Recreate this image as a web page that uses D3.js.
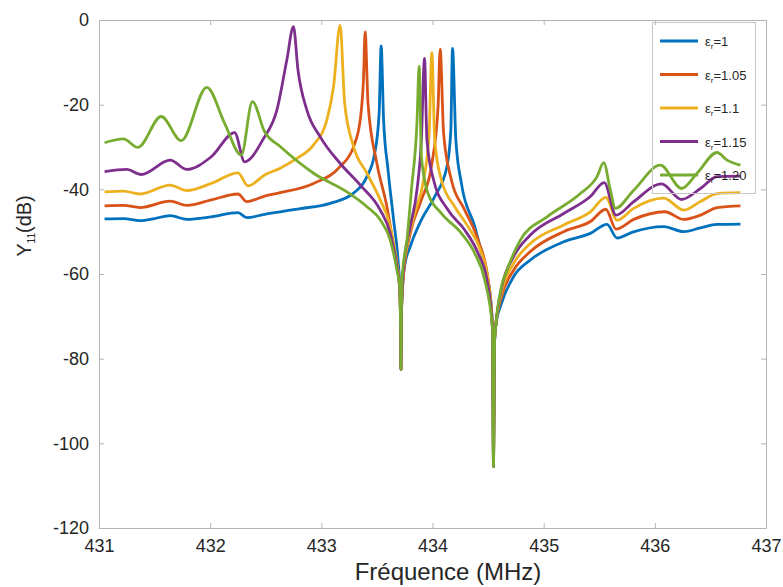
<!DOCTYPE html>
<html><head><meta charset="utf-8">
<script src="https://cdn.jsdelivr.net/npm/d3@7/dist/d3.min.js"></script>
<style>body{margin:0;background:#fff;} svg{display:block;font-family:"Liberation Sans",Arial,Helvetica,sans-serif;}</style>
</head><body>
<svg id="chart" width="783" height="587"></svg>
<script>
// ---- data (frequency MHz, Y11 dB) ----
const xTicks = [431, 432, 433, 434, 435, 436, 437];
const yTicks = [0, -20, -40, -60, -80, -100, -120];
const seriesNames = ["1", "1.05", "1.1", "1.15", "1.20"];
const seriesColors = ["#0072BD", "#D95319", "#EDB120", "#7E2F8E", "#77AC30"];

const er100 = [[431.05,-47.0],[431.22,-46.9],[431.37,-47.4],[431.50,-46.9],[431.64,-46.2],[431.79,-47.1],[432.01,-46.5],[432.25,-45.5],[432.33,-46.7],[432.49,-45.9],[432.63,-45.3],[432.80,-44.6],[433.08,-43.3],[433.29,-40.9],[433.41,-37.0],[433.48,-31.5],[433.52,-22.0],[433.538,-6.1],[433.56,-23.6],[433.60,-35.4],[433.65,-47.2],[433.69,-56.7],[433.705,-63],[433.712,-70],[433.716,-82.5],[433.72,-70],[433.73,-63],[433.75,-58],[433.80,-53.5],[433.90,-47.2],[434.02,-41.7],[434.13,-34.6],[434.165,-26],[434.18,-6.7],[434.21,-28.3],[434.26,-38.6],[434.38,-48.8],[434.47,-58.3],[434.52,-65],[434.54,-73],[434.549,-105.5],[434.558,-76],[434.57,-72],[434.62,-67],[434.73,-60.6],[434.88,-56.7],[435.18,-52.4],[435.42,-50.4],[435.57,-48.3],[435.66,-51.5],[435.80,-50.1],[436.08,-48.8],[436.26,-50.0],[436.41,-49.1],[436.56,-48.3],[436.77,-48.2]];

const er105 = [[431.05,-43.9],[431.22,-43.8],[431.37,-44.3],[431.64,-42.8],[431.79,-43.8],[432.01,-42.5],[432.25,-41.1],[432.33,-42.9],[432.49,-41.6],[432.63,-40.8],[432.93,-38.6],[433.17,-34.6],[433.29,-29.9],[433.35,-23.6],[433.38,-13.4],[433.394,-2.8],[433.42,-19.7],[433.50,-33.9],[433.59,-44.1],[433.66,-55.1],[433.70,-62],[433.712,-70],[433.716,-82.5],[433.72,-70],[433.74,-60],[433.80,-50.4],[433.90,-42.5],[433.99,-34.6],[434.05,-20.5],[434.069,-6.9],[434.10,-26.8],[434.17,-37.8],[434.29,-44.9],[434.41,-52.0],[434.50,-61.4],[434.54,-73],[434.549,-105.5],[434.558,-76],[434.57,-72],[434.62,-65.5],[434.73,-59.1],[434.88,-54.7],[435.18,-50.0],[435.42,-47.6],[435.56,-44.7],[435.65,-49.4],[435.81,-47.1],[436.09,-45.3],[436.26,-47.1],[436.41,-46.1],[436.56,-44.3],[436.77,-43.9]];

const er110 = [[431.05,-40.6],[431.22,-40.4],[431.37,-41.1],[431.64,-39.0],[431.79,-40.3],[432.01,-38.6],[432.25,-36.1],[432.34,-39.2],[432.49,-36.6],[432.63,-35.0],[432.78,-32.7],[432.93,-29.5],[433.05,-23.6],[433.11,-15.7],[433.169,-1.2],[433.21,-19.7],[433.29,-29.9],[433.41,-36.2],[433.53,-42.5],[433.62,-48.8],[433.68,-57.5],[433.705,-63],[433.712,-70],[433.716,-82.5],[433.72,-70],[433.73,-62],[433.77,-53.5],[433.84,-45.7],[433.92,-37.8],[433.97,-26.8],[433.994,-7.7],[434.02,-28.3],[434.08,-37.8],[434.20,-44.1],[434.32,-48.8],[434.43,-54.3],[434.50,-61.4],[434.54,-73],[434.549,-105.5],[434.558,-76],[434.57,-72],[434.62,-64.5],[434.73,-57.5],[434.88,-52.8],[435.18,-48.4],[435.42,-45.3],[435.56,-41.9],[435.66,-47.3],[435.81,-44.5],[436.08,-42.1],[436.26,-44.9],[436.41,-42.9],[436.56,-41.0],[436.77,-40.8]];

const er115 = [[431.05,-35.8],[431.25,-35.3],[431.38,-36.5],[431.64,-33.1],[431.79,-35.3],[432.01,-32.3],[432.22,-26.6],[432.31,-33.5],[432.48,-28.0],[432.60,-21.3],[432.69,-9.4],[432.749,-1.6],[432.79,-11.8],[432.87,-21.3],[432.99,-27.6],[433.17,-33.9],[433.35,-39.0],[433.53,-44.9],[433.62,-50.4],[433.68,-58.3],[433.705,-63],[433.712,-70],[433.716,-82.5],[433.72,-70],[433.74,-58.3],[433.80,-48.8],[433.86,-40.2],[433.90,-28.3],[433.928,-9.1],[433.95,-28.3],[434.01,-37.8],[434.14,-44.9],[434.29,-49.6],[434.41,-55.1],[434.49,-61.4],[434.54,-73],[434.549,-105.5],[434.558,-76],[434.57,-72],[434.62,-63.5],[434.73,-55.9],[434.88,-50.8],[435.18,-45.7],[435.42,-41.7],[435.545,-38.4],[435.65,-46.1],[435.81,-42.9],[436.06,-38.7],[436.24,-42.4],[436.41,-39.8],[436.56,-37.0],[436.77,-36.9]];

const er120 = [[431.05,-29.0],[431.22,-28.1],[431.35,-30.1],[431.56,-22.8],[431.74,-28.5],[431.97,-15.9],[432.13,-24.4],[432.28,-31.9],[432.38,-19.3],[432.49,-26.4],[432.63,-29.9],[432.93,-36.2],[433.23,-40.6],[433.41,-44.1],[433.53,-47.2],[433.62,-52.0],[433.68,-59.1],[433.705,-63],[433.712,-70],[433.716,-82.5],[433.72,-70],[433.73,-59.8],[433.77,-52.0],[433.81,-40.2],[433.86,-24.4],[433.88,-10.9],[433.90,-32.3],[433.96,-41.0],[434.08,-45.7],[434.26,-50.4],[434.38,-55.1],[434.47,-61.4],[434.54,-73],[434.549,-105.5],[434.558,-76],[434.57,-72],[434.62,-63],[434.67,-59.1],[434.79,-52.0],[435.03,-46.5],[435.33,-41.0],[435.48,-37.0],[435.54,-33.7],[435.60,-40.2],[435.645,-44.5],[435.81,-40.2],[436.05,-34.3],[436.24,-39.8],[436.38,-36.2],[436.56,-31.3],[436.65,-33.1],[436.77,-34.3]];

const allSeries = [er100, er105, er110, er115, er120];

// ---- layout ----
const svg = d3.select("#chart");
const L = 99, R = 766, T = 20, B = 528;
const x = d3.scaleLinear().domain([431, 437]).range([L, R]);
const y = d3.scaleLinear().domain([-120, 0]).range([B, T]);
const axisCol = "#b4b4b4", textCol = "#262626";

// axes
const gx = svg.append("g").attr("transform", `translate(0,${B})`)
  .call(d3.axisBottom(x).tickValues(xTicks).tickFormat(d3.format("d")).tickSizeInner(-5).tickSizeOuter(0).tickPadding(11));
const gxt = svg.append("g").attr("transform", `translate(0,${T})`)
  .call(d3.axisTop(x).tickValues(xTicks).tickFormat("").tickSizeInner(-5).tickSizeOuter(0));
const gy = svg.append("g").attr("transform", `translate(${L},0)`)
  .call(d3.axisLeft(y).tickValues(yTicks).tickFormat(d3.format("d")).tickSizeInner(-5).tickSizeOuter(0).tickPadding(10));
const gyr = svg.append("g").attr("transform", `translate(${R},0)`)
  .call(d3.axisRight(y).tickValues(yTicks).tickFormat("").tickSizeInner(-5).tickSizeOuter(0));
[gx, gxt, gy, gyr].forEach(g => {
  g.select(".domain").attr("stroke", axisCol).attr("stroke-width", 1);
  g.selectAll(".tick line").attr("stroke", axisCol);
  g.selectAll(".tick text").attr("fill", textCol).attr("font-size", 18)
    .attr("font-family", '"Liberation Sans",Arial,sans-serif');
});
gy.selectAll(".tick text").text(d => d === 0 ? "0" : "-" + Math.abs(d));

// lines
const line = d3.line().x(d => x(d[0])).y(d => y(d[1])).curve(d3.curveMonotoneX);
allSeries.forEach((s, i) => {
  svg.append("path").datum(s).attr("d", line).attr("fill", "none")
    .attr("stroke", seriesColors[i]).attr("stroke-width", 2.8).attr("stroke-linejoin", "round");
});

// axis titles
svg.append("text").attr("x", 448).attr("y", 580).attr("text-anchor", "middle")
  .attr("font-size", 24).attr("fill", textCol).text("Fréquence (MHz)");
const yt = svg.append("text").attr("transform", `translate(31,226) rotate(-90)`)
  .attr("text-anchor", "middle").attr("font-size", 20).attr("fill", textCol);
yt.append("tspan").text("Y");
yt.append("tspan").attr("font-size", 10).attr("dy", 4).text("11");
yt.append("tspan").attr("dy", -4).text("(dB)");

// legend
const lg = svg.append("g");
lg.append("rect").attr("x", 652.5).attr("y", 22.5).attr("width", 103).attr("height", 171)
  .attr("fill", "none").attr("stroke", "#c8c8c8");
seriesNames.forEach((n, i) => {
  const yy = 41 + i * 33.5;
  lg.append("line").attr("x1", 660).attr("x2", 698).attr("y1", yy).attr("y2", yy)
    .attr("stroke", seriesColors[i]).attr("stroke-width", 2.8);
  const t = lg.append("text").attr("x", 705).attr("y", yy + 5).attr("font-size", 13).attr("fill", textCol);
  t.append("tspan").text("ε");
  t.append("tspan").attr("font-size", 8).attr("dy", 3).text("r");
  t.append("tspan").attr("dy", -3).text("=" + n);
});
</script>
</body></html>
